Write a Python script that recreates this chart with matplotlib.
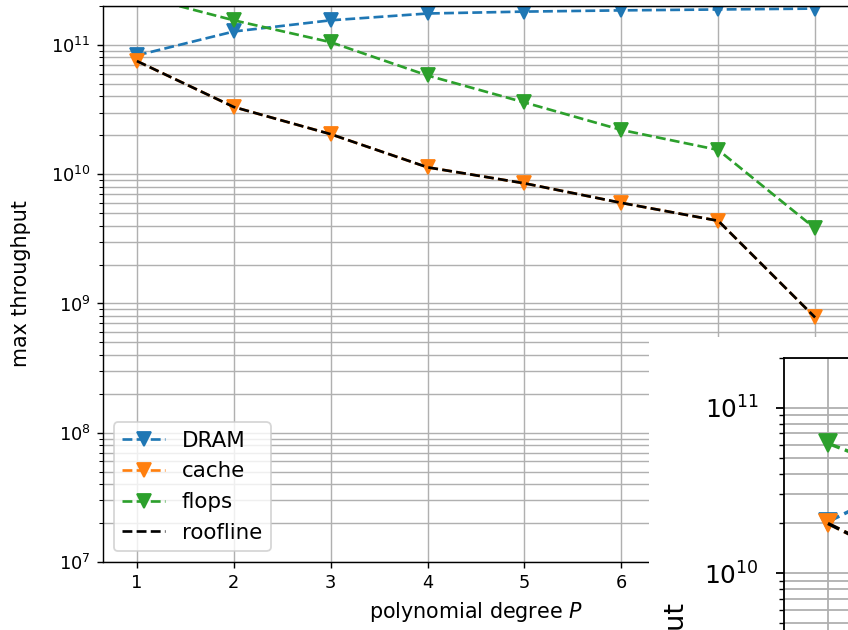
import numpy as np
import matplotlib
matplotlib.use("Agg")
import matplotlib.pyplot as plt

# ---- data (main chart) ----
degree = [1, 2, 3, 4, 5, 6, 7, 8]
dram = [8.3e10, 1.27e11, 1.55e11, 1.75e11, 1.81e11, 1.85e11, 1.88e11, 1.91e11]
cache = [7.5e10, 3.31e10, 2.04e10, 1.13e10, 8.5e9, 6.0e9, 4.36e9, 7.8e8]
flops = [2.43e11, 1.55e11, 1.05e11, 5.8e10, 3.59e10, 2.2e10, 1.54e10, 3.81e9]
roofline = [7.5e10, 3.31e10, 2.04e10, 1.13e10, 8.5e9, 6.0e9, 4.36e9, 7.8e8]

# ---- data (second, partially visible chart) ----
degree2 = [1, 2]
dram2 = [2.05e10, 4.8e10]
cache2 = [2.0e10, 8.4e9]
flops2 = [6.1e10, 3.1e10]
roofline2 = [2.0e10, 8.4e9]

W, H, DPI = 848, 630, 128
fig = plt.figure(figsize=(W / DPI, H / DPI), dpi=DPI)

def px_rect(x0, y_top, x1, y_bot):
    return [x0 / W, 1 - y_bot / H, (x1 - x0) / W, (y_bot - y_top) / H]

ax = fig.add_axes(px_rect(103, 6, 849, 562))
ax.plot(degree, dram, 'v--', color='#1f77b4', markersize=8, label='DRAM')
ax.plot(degree, cache, 'v--', color='#ff7f0e', markersize=8, label='cache')
ax.plot(degree, flops, 'v--', color='#2ca02c', markersize=8, label='flops')
ax.plot(degree, roofline, '--', color='black', label='roofline')
ax.set_yscale('log')
ax.set_xlim(0.65, 8.35)
ax.set_ylim(1e7, 2e11)
ax.set_xticks(degree)
ax.grid(True, which='both')
ax.set_xlabel('polynomial degree $P$', fontsize=11.6)
ax.set_ylabel('max throughput', fontsize=11.6, labelpad=11)
ax.legend(loc='lower left', fontsize=12)

# white background of the overlapping second chart
bg = fig.add_axes(px_rect(649, 337, 849, 631))
bg.set_facecolor('white')
bg.set_xticks([]); bg.set_yticks([])
for s in bg.spines.values():
    s.set_visible(False)

# second chart (scaled up, mostly outside the canvas)
sc = 1.28
ax2 = fig.add_axes(px_rect(784, 358, 784 + 7.7 * 125.5, 358 + 4.3 * 165.5))
ax2.plot(degree2, dram2, 'v--', color='#1f77b4', markersize=8 * sc, lw=1.5 * sc)
ax2.plot(degree2, cache2, 'v--', color='#ff7f0e', markersize=8 * sc, lw=1.5 * sc)
ax2.plot(degree2, flops2, 'v--', color='#2ca02c', markersize=8 * sc, lw=1.5 * sc)
ax2.plot(degree2, roofline2, '--', color='black', lw=1.5 * sc)
ax2.set_yscale('log')
ax2.set_xlim(0.65, 8.35)
ax2.set_ylim(1e7, 2e11)
ax2.set_xticks(degree)
ax2.grid(True, which='both', lw=0.8 * sc)
ax2.tick_params(which='major', labelsize=14, length=3.5 * sc, width=0.8 * sc, pad=9.5)
ax2.tick_params(which='minor', length=2 * sc, width=0.6 * sc)
for s in ax2.spines.values():
    s.set_linewidth(0.8 * sc)
ax2.set_ylabel('max throughput', fontsize=12 * sc, labelpad=8)

fig.savefig('out.png', dpi=DPI)
